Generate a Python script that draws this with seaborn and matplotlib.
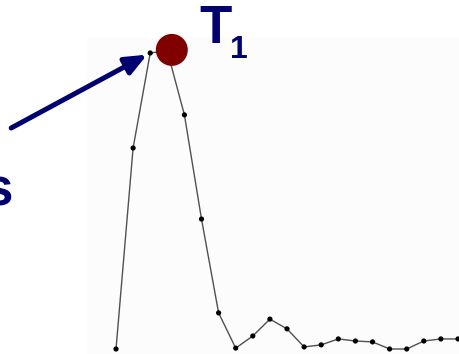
import numpy as np
import pandas as pd
import matplotlib
matplotlib.use("Agg")
import matplotlib.pyplot as plt
import matplotlib.transforms as mtransforms
from matplotlib.patches import Rectangle
import seaborn as sns

# Sampled response (arbitrary units) at equally spaced time steps
time_steps = list(range(21))
response = [0.0, 67.9, 100.0, 100.7, 79.1, 43.9, 12.2, 0.3, 4.4, 10.1, 6.8,
            0.7, 1.4, 3.4, 2.7, 2.4, 0.0, 0.0, 2.7, 3.4, 3.4]
peak_label = "T"
peak_index = "1"
side_label = "s"

NAVY = "#000070"
MAROON = "#800000"

sns.set_style("white")
plt.rcParams["font.family"] = ["Liberation Sans", "DejaVu Sans"]

W, H, DPI = 459, 354, 100
fig = plt.figure(figsize=(W / DPI, H / DPI), dpi=DPI)
ax = fig.add_axes([0, 0, 1, 1])
ax.set_xlim(-6.784, 20.058)
ax.set_ylim(-1.689, 117.9)
ax.axis("off")

# faint plotting panel
ax.add_patch(Rectangle((87 / W, 0), 1 - 87 / W, (H - 37) / H,
                       transform=ax.transAxes, facecolor="#fcfcfc",
                       edgecolor="none", zorder=0))

df = pd.DataFrame({"t": time_steps, "v": response})
sns.lineplot(data=df, x="t", y="v", ax=ax, color="#505050", lw=1.0, zorder=2)
sns.scatterplot(data=df, x="t", y="v", ax=ax, color="black", s=14,
                edgecolor="none", zorder=3)

# highlight the maximum
i_max = int(np.argmax(response))
shift = mtransforms.ScaledTranslation(4.5 / DPI, 1 / DPI, fig.dpi_scale_trans)
ax.scatter([time_steps[i_max]], [response[i_max]], s=530, color=MAROON,
           edgecolor="none", zorder=4, clip_on=False,
           transform=ax.transData + shift)

# arrow pointing at the rising edge top
ax.annotate("", xy=(time_steps[i_max - 1], response[i_max - 1]),
            xytext=(-139, -75), textcoords="offset pixels",
            arrowprops=dict(arrowstyle="-|>,head_length=1.3,head_width=0.55",
                            mutation_scale=10, color=NAVY, lw=3.6,
                            shrinkA=0, shrinkB=2.5),
            annotation_clip=False, zorder=5)

fig.text(199 / W, 1 - 43 / H, peak_label, fontsize=38, fontweight="bold",
         color=NAVY, ha="left", va="baseline")
fig.text(229.5 / W, 1 - 58 / H, peak_index, fontsize=23, fontweight="bold",
         color=NAVY, ha="left", va="baseline")
fig.text(-17 / W, 1 - 205 / H, side_label, fontsize=38, fontweight="bold",
         color=NAVY, ha="left", va="baseline")

fig.savefig("out.png", dpi=DPI, facecolor="white")
